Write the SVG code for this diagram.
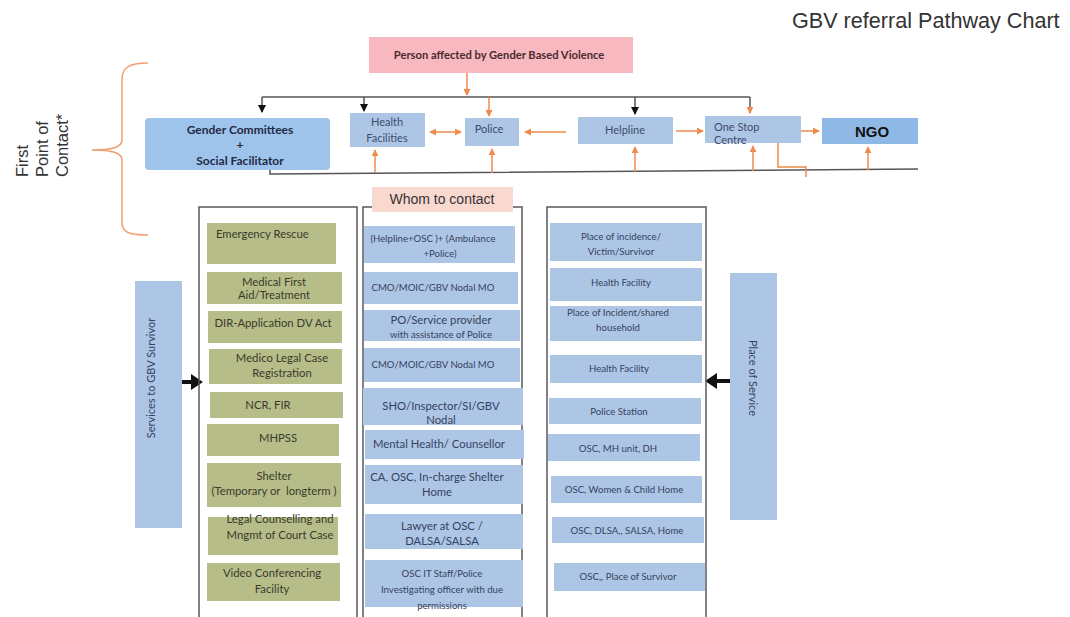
<svg xmlns="http://www.w3.org/2000/svg" width="1070" height="617" viewBox="0 0 1070 617">
<defs>
<style>
.t{font-family:Lato,"Liberation Sans",sans-serif;}
.a{font-family:"Liberation Sans",Arial,sans-serif;}
.c{text-anchor:middle;}
.pk{fill:#f8b8c0;}
.bl{fill:#aec6e6;}
.gn{fill:#b6bd88;}
.fr{fill:none;stroke:#5a5a5a;stroke-width:1.5;}
.gt{fill:#3a3a2c;font-size:11.3px;}
.bt{fill:#34425e;font-size:9.6px;}
.bt2{fill:#34425e;font-size:11.3px;}
.ft{fill:#3d4c6b;font-size:11px;}
.or{fill:none;stroke:#f08a4b;stroke-width:1.5;}
.gy{fill:none;stroke:#555;stroke-width:1.5;}
.bigarrow{fill:#111;}
</style>
<marker id="ao" viewBox="0 0 8 8" refX="7" refY="4" markerWidth="7" markerHeight="7" markerUnits="userSpaceOnUse" orient="auto-start-reverse"><path d="M0,0 L8,4 L0,8 z" fill="#f08a4b"/></marker>
<marker id="ab" viewBox="0 0 8 8" refX="7" refY="4" markerWidth="8" markerHeight="8" markerUnits="userSpaceOnUse" orient="auto"><path d="M0,0 L8,4 L0,8 z" fill="#111"/></marker>
</defs>
<rect width="1070" height="617" fill="#fff"/>

<text class="a" x="792" y="28" font-size="21.6" fill="#333">GBV referral Pathway Chart</text>

<g id="first-point-label">
<path d="M148 63 C128 63 122 68 122 80 L122 140 C122 148 110 150 92 150 C110 150 122 152 122 160 L122 222 C122 232 128 235 148 235" fill="none" stroke="#f0a070" stroke-width="1.5"/>
<text class="a" transform="translate(28,177) rotate(-90)" font-size="16.5" fill="#333"><tspan x="0" y="0">First</tspan><tspan x="0" y="20">Point of</tspan><tspan x="0" y="40">Contact*</tspan></text>
</g>

<g id="connectors">
<path class="gy" d="M262 97 H750"/>
<path class="gy" d="M262 97 V112" marker-end="url(#ab)"/>
<path class="gy" d="M364 97 V111" marker-end="url(#ab)"/>
<path class="gy" d="M635 97 V114" marker-end="url(#ab)"/>
<path class="gy" d="M750 97 V113" marker-end="url(#ao)"/>
<path class="gy" d="M270 170 V174 L918 169"/>
<path class="or" d="M467 73 V95" marker-end="url(#ao)"/>
<path class="or" d="M489 97 V116" marker-end="url(#ao)"/>
<path class="or" d="M430 132 H461" marker-start="url(#ao)" marker-end="url(#ao)"/>
<path class="or" d="M566 132 H525" marker-end="url(#ao)"/>
<path class="or" d="M676 131 H703" marker-end="url(#ao)"/>
<path class="or" d="M792 131 H819" marker-end="url(#ao)"/>
<path class="or" d="M375 173 V150" marker-end="url(#ao)"/>
<path class="or" d="M492 173 V149" marker-end="url(#ao)"/>
<path class="or" d="M635 172 V147" marker-end="url(#ao)"/>
<path class="or" d="M753 171 V146" marker-end="url(#ao)"/>
<path class="or" d="M868 170 V147" marker-end="url(#ao)"/>
<path class="or" d="M778 143 V167 H806 V177"/>
<path class="bigarrow" d="M175 380 H191 V374 L203 382 L191 390 V384 H175 Z"/>
<path class="bigarrow" d="M733 379 H717 V373 L705 381 L717 389 V383 H733 Z"/>
</g>

<g id="person">
<rect class="pk" x="369" y="37" width="264" height="36"/>
<text class="t c" x="499" y="59" font-size="11.2" font-weight="bold" fill="#4a2a2e">Person affected by Gender Based Violence</text>
</g>
<g id="gender-committees">
<rect x="145" y="118" width="185" height="52" rx="4" fill="#9fc4ec"/>
<text class="t c" x="240" y="134" font-size="12" font-weight="bold" fill="#1f2a44">Gender Committees</text>
<text class="t c" x="240" y="149" font-size="12" font-weight="bold" fill="#1f2a44">+</text>
<text class="t c" x="240" y="165" font-size="12" font-weight="bold" fill="#1f2a44">Social Facilitator</text>
</g>
<g id="health-facilities">
<rect class="bl" x="350" y="113" width="75" height="34"/>
<text class="t c ft" x="387" y="126">Health</text>
<text class="t c ft" x="387" y="142">Facilities</text>
</g>
<g id="police">
<rect class="bl" x="465" y="118" width="54" height="28"/>
<text class="t c ft" x="489" y="133">Police</text>
</g>
<g id="helpline">
<rect class="bl" x="578" y="117" width="95" height="27"/>
<text class="t c ft" x="625" y="134">Helpline</text>
</g>
<g id="one-stop-centre">
<rect class="bl" x="705" y="116" width="96" height="27"/>
<text class="t ft" x="714" y="131">One Stop</text>
<text class="t ft" x="714" y="144">Centre</text>
</g>
<g id="ngo">
<rect x="822" y="118" width="96" height="26" fill="#8fb8e6"/>
<text class="a c" x="872" y="137" font-size="15" font-weight="bold" fill="#111">NGO</text>
</g>

<g id="services-label">
<rect class="bl" x="135" y="281" width="47" height="247"/>
<text class="t c" transform="translate(155,378) rotate(-90)" font-size="11" fill="#34425e">Services to GBV Survivor</text>
</g>
<g id="place-label">
<rect class="bl" x="730" y="273" width="47" height="247"/>
<text class="t c" transform="translate(749,378) rotate(90)" font-size="11" fill="#34425e">Place of Service</text>
</g>

<g id="services-column">
<rect class="fr" x="199" y="207" width="158" height="420"/>
<rect class="gn" x="207" y="223" width="129" height="41"/>
<text class="t gt" x="216" y="238">Emergency Rescue</text>
<rect class="gn" x="207" y="272" width="135" height="32"/>
<text class="t c gt" x="274" y="286">Medical First</text>
<text class="t c gt" x="274" y="299">Aid/Treatment</text>
<rect class="gn" x="208" y="311" width="134" height="32"/>
<text class="t c gt" x="273" y="327">DIR-Application DV Act</text>
<rect class="gn" x="209" y="349" width="133" height="35"/>
<text class="t c gt" x="282" y="362">Medico Legal Case</text>
<text class="t c gt" x="282" y="377">Registration</text>
<rect class="gn" x="210" y="392" width="133" height="26"/>
<text class="t c gt" x="268" y="409">NCR, FIR</text>
<rect class="gn" x="207" y="424" width="132" height="32"/>
<text class="t c gt" x="278" y="442">MHPSS</text>
<rect class="gn" x="207" y="463" width="134" height="44"/>
<text class="t c gt" x="274" y="480">Shelter</text>
<text class="t c gt" x="274" y="495" xml:space="preserve">(Temporary or  longterm )</text>
<rect class="gn" x="208" y="517" width="130" height="38"/>
<text class="t c gt" x="280" y="523">Legal Counselling and</text>
<text class="t c gt" x="280" y="539">Mngmt of Court Case</text>
<rect class="gn" x="207" y="563" width="133" height="38"/>
<text class="t c gt" x="272" y="577">Video Conferencing</text>
<text class="t c gt" x="272" y="593">Facility</text>
</g>

<g id="contact-column">
<rect class="fr" x="363" y="207" width="159" height="420"/>
<rect x="372" y="187" width="141" height="25" fill="#f9d8d0"/>
<text class="a c" x="442" y="204" font-size="14" fill="#333">Whom to contact</text>
<rect class="bl" x="364" y="226" width="151" height="37"/>
<text class="t c bt" x="433" y="242">(Helpline+OSC )+ (Ambulance</text>
<text class="t c bt" x="440" y="257">+Police)</text>
<rect class="bl" x="364" y="272" width="154" height="32"/>
<text class="t c bt" x="433" y="291">CMO/MOIC/GBV Nodal MO</text>
<rect class="bl" x="364" y="310" width="156" height="31"/>
<text class="t c bt2" x="441" y="324">PO/Service provider</text>
<text class="t c bt" x="441" y="338">with assistance of Police</text>
<rect class="bl" x="364" y="348" width="156" height="34"/>
<text class="t c bt" x="433" y="368">CMO/MOIC/GBV Nodal MO</text>
<rect class="bl" x="363" y="388" width="160" height="37"/>
<text class="t c bt2" x="441" y="410">SHO/Inspector/SI/GBV</text>
<text class="t c bt2" x="441" y="424">Nodal</text>
<rect class="bl" x="365" y="430" width="159" height="29"/>
<text class="t c bt2" x="439" y="448">Mental Health/ Counsellor</text>
<rect class="bl" x="365" y="465" width="158" height="39"/>
<text class="t c bt2" x="437" y="481">CA, OSC, In-charge Shelter</text>
<text class="t c bt2" x="437" y="496">Home</text>
<rect class="bl" x="365" y="514" width="158" height="35"/>
<text class="t c bt2" x="442" y="530">Lawyer at OSC /</text>
<text class="t c bt2" x="442" y="545">DALSA/SALSA</text>
<rect class="bl" x="365" y="560" width="158" height="47"/>
<text class="t c bt" x="442" y="577">OSC IT Staff/Police</text>
<text class="t c bt" x="442" y="593">Investigating officer with due</text>
<text class="t c bt" x="442" y="609">permissions</text>
</g>

<g id="place-column">
<rect class="fr" x="547" y="207" width="159" height="420"/>
<rect class="bl" x="550" y="223" width="152" height="38"/>
<text class="t c bt" x="621" y="240">Place of incidence/</text>
<text class="t c bt" x="621" y="255">Victim/Survivor</text>
<rect class="bl" x="550" y="268" width="152" height="33"/>
<text class="t c bt" x="621" y="286">Health Facility</text>
<rect class="bl" x="550" y="306" width="152" height="35"/>
<text class="t c bt" x="618" y="316">Place of Incident/shared</text>
<text class="t c bt" x="618" y="331">household</text>
<rect class="bl" x="550" y="355" width="152" height="28"/>
<text class="t c bt" x="619" y="372">Health Facility</text>
<rect class="bl" x="549" y="398" width="152" height="26"/>
<text class="t c bt" x="619" y="415">Police Station</text>
<rect class="bl" x="548" y="434" width="152" height="27"/>
<text class="t c bt" x="618" y="452">OSC, MH unit, DH</text>
<rect class="bl" x="551" y="476" width="151" height="27"/>
<text class="t c bt" x="624" y="493">OSC, Women &amp; Child Home</text>
<rect class="bl" x="552" y="517" width="152" height="26"/>
<text class="t c bt" x="627" y="534">OSC, DLSA,, SALSA, Home</text>
<rect class="bl" x="554" y="563" width="151" height="28"/>
<text class="t c bt" x="628" y="580">OSC,, Place of Survivor</text>
</g>
</svg>
